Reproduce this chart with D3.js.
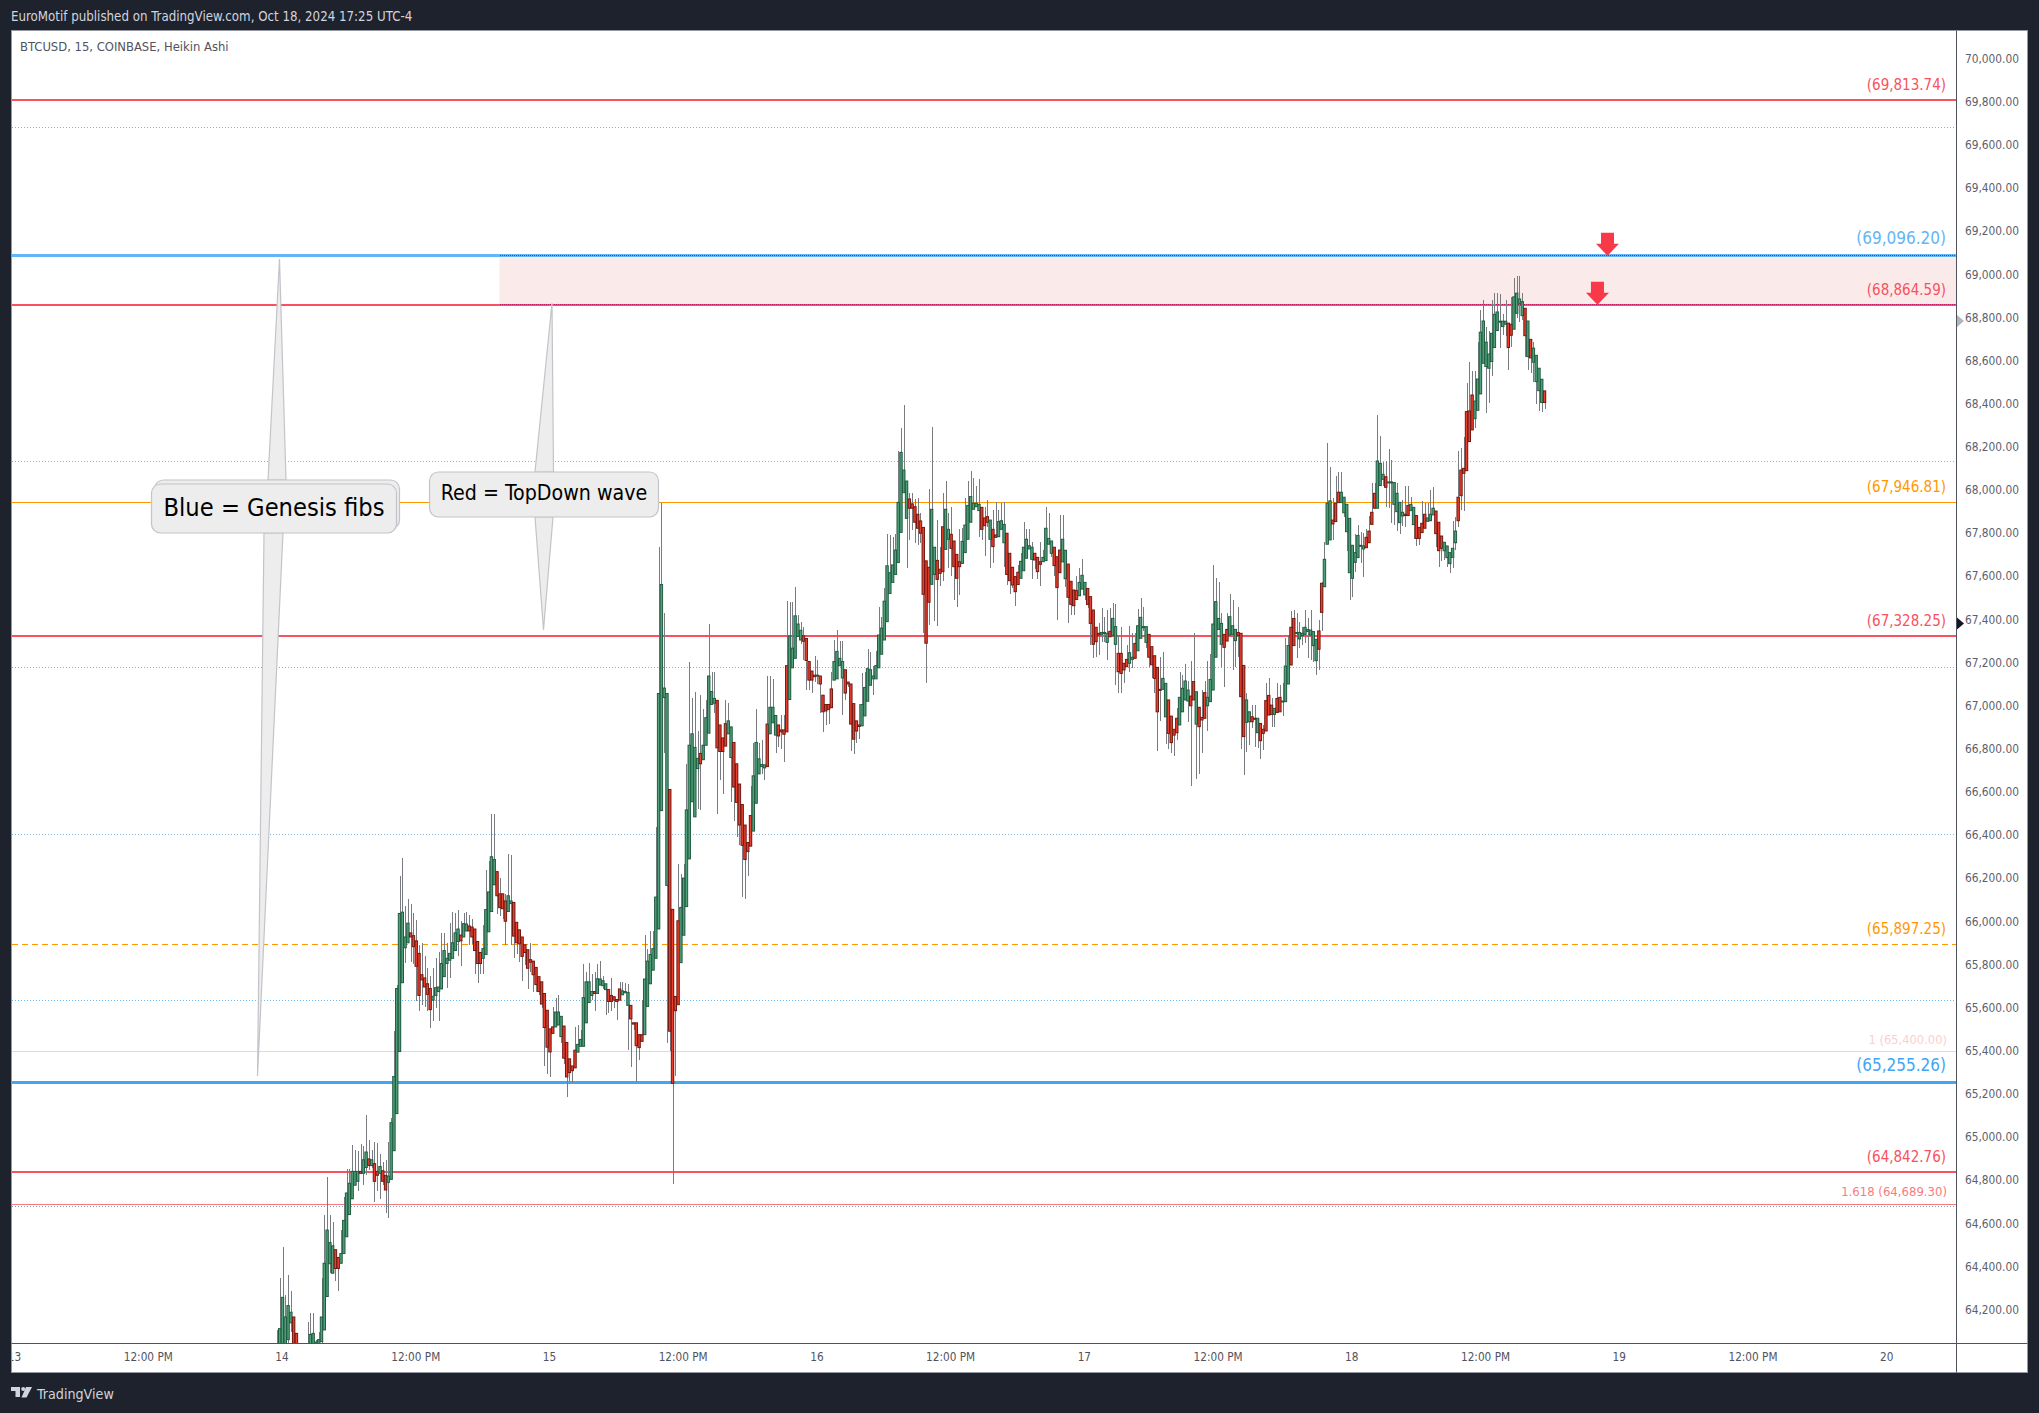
<!DOCTYPE html>
<html><head><meta charset="utf-8">
<script src="https://cdn.jsdelivr.net/npm/d3@7/dist/d3.min.js"></script>
<style>
html,body{margin:0;padding:0;background:#1e222d;overflow:hidden}
text{font-family:"DejaVu Sans Condensed","DejaVu Sans",sans-serif}
</style></head><body><div id="chart"></div>
<script>
const firstBar = -2; // bars are counted from midnight Oct 14, 15 minutes each
const upFlags = "UUUUUUDDDDUUUUUUUUUUUDDUUUUUUUDUUDUDDUDDUUUUUUUUDDDDDDDDUUUUUUUUUUDUUDDDDDUUUUUDDDDUUDDDDDDDDDDDDDDDUUUDDDDDUUUUUUDUUUUDDDDDUUUDDDDDUUUUUUUUUDDDDUUUUUUUDUUUUUDDDDUUDDDDDDDUUUUUDUUUDDDDUUUUUDDDDDUDDDDDUUUUDDDDDDUUUUUUUUUUUUUUUUUDDDDDDDDUUDDDUUDDDDUUUUUUUDDDUDDUUUDDDDDUUUUUDDDUUUUDDDUUDDDDUUUDDDDDUUUDUUDDDDUUDUUUUDDDDDUUDDDDUUUUDDUDDDUUUUUUDDUUUDDDUUDDUDDDDDUDDUUUDDUUUUUUUUDDUUUDDDUUUUUUUUUDDDDUUUDUUUUUUDDUUDDDDUUUDDDUUUUUDDDDDDUUUUUUUUUUUUDDUUUUDUDUUUUDDDDDDDDD";
const bodyTops = [64000,64115,64260,64169,64222,64191,64169,64093,64000,63960,
63960,64000,64088,64093,64053,64064,64169,64418,64572,64514,
64499,64481,64445,64463,64617,64744,64789,64844,64844,64844,
64844,64898,64934,64902,64898,64880,64844,64867,64847,64826,
64822,65070,65284,65692,66040,66046,65931,65995,65950,65937,
65913,65855,65756,65741,65714,65692,65656,65696,65699,65808,
65868,65832,65855,65904,65950,65968,65940,65993,65991,65982,
65977,65968,65910,65859,65877,66058,66140,66303,66290,66234,
66131,66131,66098,66122,66098,66091,65999,65964,65931,65895,
65872,65826,65819,65790,65747,65723,65669,65591,65505,65514,
65583,65583,65563,65518,65442,65366,65333,65406,65433,65456,
65650,65723,65723,65678,65678,65737,65736,65728,65714,65687,
65660,65654,65641,65690,65681,65678,65674,65614,65533,65533,
65478,65478,65736,65819,65850,65877,66116,67060,67565,67085,
67060,66615,66059,65655,66006,66068,66204,66520,66820,66873,
66810,66759,66782,66820,66948,67141,67069,67037,67028,66914,
66854,66920,66933,66905,66833,66734,66640,66545,66450,66369,
66494,66678,66833,66757,66731,66729,66918,66996,66996,66958,
66914,66891,66891,67189,67327,67270,67420,67382,67353,67327,
67315,67208,67164,67145,67145,67141,67052,67009,67009,67081,
67208,67255,67223,67208,67170,67113,67104,67013,66933,66914,
67009,67088,67175,67170,67141,67189,67331,67363,67488,67652,
67620,67656,67725,67946,68178,68096,68045,67962,67939,67926,
67891,67860,67830,67675,67645,67914,67738,67677,67636,67833,
67914,67821,67798,67767,67705,67671,67765,67841,67932,67973,
67942,67942,67937,67923,67874,67880,67864,67821,67795,67857,
67861,67844,67803,67710,67645,67602,67622,67673,67738,67775,
67745,67738,67710,67691,67671,67691,67826,67779,67767,67738,
67694,67725,67775,67724,67660,67580,67540,67537,67575,67608,
67575,67547,67509,67447,67367,67339,67343,67343,67339,67348,
67408,67370,67246,67246,67200,67218,67249,67228,67292,67374,
67413,67370,67370,67334,67277,67235,67181,67079,67130,67107,
67030,66955,66894,66945,67042,67084,67118,67076,67048,67115,
67068,66996,66949,67064,67042,67125,67382,67486,67408,67385,
67334,67357,67416,67374,67357,67343,67339,67190,67030,66975,
66952,66945,66945,66921,66894,67027,67051,67006,66991,67037,
67042,67025,67187,67282,67367,67408,67343,67343,67339,67367,
67357,67354,67347,67311,67350,67571,67682,67942,67953,67864,
67942,67993,67993,67970,67937,67872,67747,67713,67793,67747,
67744,67784,67813,67900,67988,68138,68127,68076,68065,68041,
68041,68038,67988,67946,67900,67891,67932,67937,67923,67885,
67830,67849,67891,67874,67891,67919,67906,67854,67790,67761,
67744,67713,67733,67813,67970,68096,68104,68367,68370,68444,
68416,68518,68735,68787,68689,68634,68730,68818,68829,68786,
68786,68786,68777,68772,68899,68916,68889,68877,68846,68787,
68702,68661,68628,68568,68517,68463];
const bodyBottoms = [63950,63980,63960,64000,64064,64142,63990,63990,63960,63930,
63930,63960,63990,63990,64030,64046,64055,64109,64264,64416,
64372,64394,64394,64418,64463,64541,64644,64717,64780,64798,
64835,64835,64862,64871,64871,64798,64826,64835,64798,64758,
64793,64807,64940,65112,65400,65719,65881,65904,65931,65886,
65795,65660,65732,65699,65665,65594,65638,65660,65678,65690,
65747,65808,65823,65832,65868,65910,65913,65931,65959,65959,
65931,65868,65808,65808,65832,65850,65955,66049,66173,66122,
66067,66062,66004,66049,66086,65935,65904,65899,65841,65859,
65786,65814,65756,65710,65678,65620,65511,65420,65398,65484,
65514,65523,65469,65369,65282,65302,65311,65324,65397,65424,
65424,65533,65627,65660,65669,65669,65708,65705,65687,65632,
65632,65638,65632,65638,65663,65672,65614,65551,65527,65427,
65418,65447,65478,65609,65714,65777,65832,65968,66517,67041,
66170,65494,65252,65589,65617,65812,65939,66072,66293,66558,
66488,66712,66734,66753,66820,66876,67009,67015,66808,66791,
66791,66816,66873,66763,66626,66555,66450,66356,66290,66327,
66352,66422,66551,66687,66721,66715,66721,66873,66924,66867,
66863,66882,66871,66882,67032,67179,67223,67325,67308,67302,
67213,67122,67122,67138,67141,67104,66975,66979,66986,66994,
67122,67128,67189,67132,67062,67104,66918,66848,66886,66907,
66910,66956,67024,67098,67128,67128,67179,67242,67308,67393,
67524,67575,67612,67667,67807,67991,67872,67919,67919,67854,
67826,67803,67520,67293,67483,67566,67612,67589,67617,67625,
67728,67775,67733,67648,67594,67648,67663,67713,67775,67854,
67914,67926,67908,67821,67838,67854,67775,67741,67784,67787,
67821,67759,67612,67583,67563,67532,67565,67594,67629,67687,
67730,67682,67679,67625,67659,67671,67676,67752,67710,67653,
67551,67620,67670,67592,67506,67473,67467,67496,67513,67544,
67517,67473,67385,67288,67300,67331,67334,67339,67297,67323,
67328,67288,67161,67153,67169,67184,67200,67218,67223,67258,
67316,67365,67297,67228,67193,67130,66975,67076,67079,66952,
66875,66832,66867,66878,66914,66975,67030,67025,67003,67030,
66918,66906,66937,66945,67003,67022,67076,67228,67357,67288,
67274,67303,67331,67334,67305,67328,67045,66860,66926,66929,
66929,66941,66878,66841,66875,66886,66960,66963,66963,66972,
66975,67022,67022,67104,67192,67282,67339,67313,67328,67334,
67347,67331,67282,67212,67265,67436,67555,67752,67772,67846,
67857,67945,67945,67898,67810,67620,67594,67668,67690,67744,
67730,67736,67759,67844,67919,67919,68024,68053,68016,68038,
68038,67937,67903,67852,67883,67885,67885,67908,67843,67779,
67779,67806,67826,67858,67861,67888,67801,67722,67733,67722,
67690,67662,67691,67759,67861,67977,68081,68093,68228,68282,
68334,68373,68449,68591,68576,68568,68599,68664,68743,68784,
68761,68772,68664,68721,68749,68823,68869,68812,68719,68622,
68616,68596,68506,68464,68409,68409];
const highs = [64110,64350,64494,64273,64363,64291,64169,64093,64020,63990,
63990,64146,64187,64187,64060,64100,64349,64644,64816,64644,
64608,64481,64445,64572,64726,64853,64853,64967,64943,64938,
64971,64962,65105,64989,64943,64980,64976,64925,64889,64898,
64980,65090,65496,65710,66212,66296,66076,66109,66086,66044,
66008,65895,65904,65841,65786,65750,65786,65832,65859,65950,
65950,65904,65995,66049,66040,66058,66004,66040,66049,66031,
66013,65968,65910,65859,65986,66240,66285,66499,66499,66234,
66203,66131,66131,66316,66312,66091,65999,65964,65931,65895,
65872,65904,65819,65790,65747,65723,65669,65591,65505,65605,
65650,65660,65563,65518,65442,65366,65333,65514,65523,65500,
65805,65768,65808,65759,65768,65805,65819,65750,65714,65687,
65741,65654,65641,65723,65723,65718,65714,65614,65533,65533,
65478,65641,65941,65877,65959,65960,66439,67741,67942,67435,
67060,66615,66059,65655,66271,66223,66271,66731,67204,67037,
67066,66886,67052,66990,67028,67382,67160,67160,67028,66914,
66854,67028,67018,66905,66833,66734,66640,66545,66450,66369,
66630,66829,66990,66829,66844,66729,67141,67141,67126,66958,
66914,66962,66958,67488,67482,67482,67554,67425,67393,67369,
67315,67208,67164,67236,67213,67141,67052,67009,67009,67160,
67308,67353,67302,67302,67170,67113,67104,67013,66933,67009,
67156,67160,67264,67251,67189,67255,67463,67416,67548,67800,
67794,67787,67800,68184,68290,68398,68045,67988,67988,67962,
67965,67895,67830,67675,68008,68294,67738,67864,67738,67988,
68045,67895,67923,67767,67705,67821,67826,67965,68045,68092,
68058,68022,68055,67923,67926,67957,67864,67911,67946,67911,
67942,67946,67803,67710,67645,67602,67656,67710,67855,67821,
67821,67764,67710,67691,67764,67725,67923,67895,67767,67738,
67694,67888,67888,67724,67660,67580,67540,67606,67640,67682,
67575,67547,67509,67447,67367,67385,67455,67416,67447,67455,
67478,67475,67331,67370,67200,67285,67373,67339,67339,67450,
67501,67459,67370,67334,67277,67235,67181,67231,67254,67107,
67030,66955,66894,66991,67161,67146,67197,67118,67210,67342,
67068,66996,67076,67118,67212,67243,67656,67597,67578,67432,
67334,67432,67520,67493,67357,67459,67339,67190,67061,66975,
67006,67006,66945,66921,66914,67107,67130,67037,66991,67107,
67099,67107,67316,67331,67444,67447,67432,67393,67370,67447,
67408,67447,67347,67311,67400,67578,67761,68220,68112,67965,
68068,68087,68087,67970,67937,67872,67747,67798,67840,67809,
67803,67821,67885,68034,68034,68351,68254,68135,68138,68192,
68143,68038,68034,67946,67957,68022,68022,67973,67923,67885,
67830,67953,67942,67942,68004,68016,67906,67854,67790,67761,
67744,67713,67861,67880,68186,68197,68248,68498,68596,68556,
68556,68690,68838,68885,68761,68743,68885,68919,68919,68913,
68818,68885,68777,68900,68988,68996,68996,68916,68846,68787,
68702,68689,68628,68568,68517,68463];
const lows = [63900,63950,63950,63950,64000,64100,63950,63950,63930,63900,
63900,63930,63970,63970,64000,64030,64050,64109,64264,64372,
64372,64336,64291,64418,64463,64541,64644,64717,64780,64753,
64835,64780,64826,64850,64860,64704,64753,64717,64780,64653,
64630,64807,64940,65112,65400,65719,65808,65904,65814,65805,
65632,65587,65614,65605,65587,65511,65542,65600,65542,65690,
65747,65696,65741,65832,65868,65841,65795,65931,65959,65895,
65900,65759,65718,65759,65759,65850,65955,66049,66173,66037,
66026,66013,65895,66049,65895,65832,65850,65814,65728,65800,
65690,65770,65678,65678,65660,65600,65333,65297,65284,65484,
65514,65523,65440,65340,65188,65257,65252,65324,65397,65424,
65424,65533,65627,65640,65587,65669,65708,65690,65569,65578,
65587,65600,65547,65638,65663,65672,65406,65330,65500,65257,
65360,65447,65478,65609,65714,65777,65832,65968,66517,66785,
65438,65400,64785,65286,65617,65812,65939,66072,66293,66558,
66488,66526,66520,66753,66820,66876,67009,66970,66502,66659,
66592,66816,66873,66555,66469,66394,66356,66115,66106,66214,
66352,66422,66551,66687,66687,66659,66721,66873,66924,66785,
66810,66801,66744,66882,67032,67179,67223,67325,67290,67217,
67075,67075,67062,67113,67104,66971,66880,66914,66918,66994,
67122,67128,67189,66961,67030,67090,66791,66778,66829,66848,
66910,66956,67024,67098,67052,67128,67179,67242,67308,67393,
67524,67575,67612,67667,67807,67991,67640,67772,67818,67756,
67748,67760,67340,67109,67378,67566,67397,67372,67560,67580,
67728,67640,67606,67493,67459,67517,67663,67713,67775,67854,
67914,67926,67787,67772,67699,67833,67640,67663,67784,67787,
67821,67648,67563,67520,67548,67467,67565,67594,67629,67687,
67730,67591,67636,67591,67560,67671,67676,67752,67694,67606,
67401,67620,67670,67555,67385,67424,67424,67496,67513,67544,
67493,67455,67285,67223,67231,67238,67300,67300,67215,67323,
67328,67099,67061,67061,67107,67184,67161,67180,67223,67258,
67316,67350,67270,67184,67130,67061,66795,66934,67079,66825,
66801,66785,66771,66844,66914,66975,67030,66929,66632,67030,
66663,66686,66782,66945,66887,67022,67076,67228,67357,67184,
67091,67303,67331,67169,67184,67231,66802,66682,66790,66821,
66900,66813,66805,66754,66798,66886,66960,66906,66906,66972,
66975,66957,67022,67104,67192,67282,67223,67269,67285,67292,
67223,67215,67207,67145,67169,67350,67555,67752,67772,67772,
67857,67945,67945,67880,67722,67493,67509,67625,67690,67663,
67602,67736,67759,67844,67919,67919,68024,68020,67926,67919,
67849,67841,67815,67799,67837,67833,67885,67908,67775,67745,
67747,67806,67826,67858,67861,67888,67741,67648,67674,67679,
67648,67617,67640,67725,67833,67911,67908,68093,68228,68282,
68290,68373,68449,68591,68359,68409,68534,68664,68743,68664,
68723,68719,68560,68668,68749,68800,68781,68790,68622,68560,
68545,68506,68402,68372,68367,68379];

const priceTicks = d3.range(64200, 70001, 200);
const timeTickBars = [-96,-48,0,48,96,144,192,240,288,336,384,432,480,528,576];
const timeTickLabels = ["13","12:00 PM","14","12:00 PM","15","12:00 PM","16","12:00 PM","17","12:00 PM","18","12:00 PM","19","12:00 PM","20"];
const hLevels = [
 {p:69813.74,c:"#f7525f",w:2},
 {p:69686,c:"#ff9800",w:1,d:"1 2"},
 {p:69090,c:"#64b5f6",w:3},
 {p:68862,c:"#f7525f",w:2},
 {p:68136,c:"#7fb5e6",w:1,d:"1 2"},
 {p:67946.81,c:"#ff9800",w:1},
 {p:67328.25,c:"#f7525f",w:2},
 {p:67181,c:"#64b5f6",w:1,d:"1 2"},
 {p:66407,c:"#7fb5e6",w:1,d:"1 2"},
 {p:65897.25,c:"#ff9800",w:1,d:"6 4"},
 {p:65637,c:"#64b5f6",w:1,d:"1 2"},
 {p:65400,c:"#fbcfd2",w:1},
 {p:65255.26,c:"#42a5f5",w:3},
 {p:64842.76,c:"#f7525f",w:2},
 {p:64689.30,c:"#f77c80",w:1},
 {p:64679,c:"#7f9fbf",w:1,d:"1 2"}
];
const levelLabels = [
 {t:"(69,813.74)",p:69884,c:"#f7525f",s:15},
 {t:"(69,096.20)",p:69172,c:"#64b5f6",s:17},
 {t:"(68,864.59)",p:68932,c:"#f7525f",s:15},
 {t:"(67,946.81)",p:68018,c:"#ff9800",s:15},
 {t:"(67,328.25)",p:67400,c:"#f7525f",s:15},
 {t:"(65,897.25)",p:65972,c:"#ff9800",s:15},
 {t:"1 (65,400.00)",p:65456,c:"#fbcfd2",s:12.8,dx:1},
 {t:"(65,255.26)",p:65338,c:"#42a5f5",s:17},
 {t:"(64,842.76)",p:64912,c:"#f7525f",s:15},
 {t:"1.618 (64,689.30)",p:64750,c:"#f77c80",s:13,dx:1}
];
const zone = {top:69090, bottom:68862, fromBar:77.9};
const arrows = [{bar:475.6,p:69090},{bar:472,p:68862}];

const W=2039,H=1413;
const P={l:11.5,t:30.5,r:2027.5,b:1372.5,ax:1956.5,ay:1343.5};
const x=d3.scaleLinear().domain([0,384]).range([282.5,1352.3]);
const y=d3.scaleLinear().domain([70000,64200]).range([59.4,1310.3]);
const tickY=d3.scaleLinear().domain([70000,64200]).range([58.6,1309.5]);
const cx=i=>Math.round(x(i))+.5;
const snap=(v,w)=>w%2===1?Math.round(v-.5)+.5:Math.round(v);

const svg=d3.select("#chart").append("svg").attr("width",W).attr("height",H).style("display","block");
svg.append("rect").attr("width",W).attr("height",H).attr("fill","#1e222d");
svg.append("text").attr("x",11).attr("y",21).attr("fill","#d1d4dc").attr("font-size",13.2).text("EuroMotif published on TradingView.com, Oct 18, 2024 17:25 UTC-4");
svg.append("rect").attr("x",P.l).attr("y",P.t).attr("width",P.r-P.l).attr("height",P.b-P.t).attr("fill","#fff").attr("stroke","#9598a1");

const defs=svg.append("defs");
defs.append("clipPath").attr("id","plot").append("rect").attr("x",P.l).attr("y",P.t).attr("width",P.ax-P.l).attr("height",P.ay-P.t);
defs.append("clipPath").attr("id","timeaxis").append("rect").attr("x",P.l+.5).attr("y",P.ay).attr("width",P.ax-P.l).attr("height",P.b-P.ay);

const plot=svg.append("g").attr("clip-path","url(#plot)");
plot.append("rect").attr("x",x(zone.fromBar)).attr("width",P.ax-x(zone.fromBar))
 .attr("y",y(zone.top)).attr("height",y(zone.bottom)-y(zone.top)).attr("fill","#faeaea");
plot.selectAll(".lvl").data(hLevels).join("line").attr("shape-rendering","crispEdges")
 .attr("x1",P.l).attr("x2",P.ax).attr("y1",d=>snap(y(d.p),d.w)).attr("y2",d=>snap(y(d.p),d.w))
 .attr("stroke",d=>d.c).attr("stroke-width",d=>d.w).attr("stroke-dasharray",d=>d.d||null);
[zone.top,zone.bottom].forEach(p=>plot.append("line").attr("shape-rendering","crispEdges").attr("x1",x(zone.fromBar)).attr("x2",P.ax).attr("y1",snap(y(p),1)).attr("y2",snap(y(p),1))
 .attr("stroke","#c2185b").attr("stroke-dasharray","1 1").attr("stroke-width",1));

const bars=bodyTops.map((t,k)=>({i:firstBar+k,t,b:bodyBottoms[k],h:highs[k],l:lows[k],up:upFlags[k]==="U"}));
plot.append("g").attr("shape-rendering","crispEdges").selectAll("line").data(bars).join("line")
 .attr("x1",d=>cx(d.i)).attr("x2",d=>cx(d.i)).attr("y1",d=>y(d.h)).attr("y2",d=>y(d.l)).attr("stroke","#787b80");
plot.append("g").selectAll("rect").data(bars).join("rect")
 .attr("x",d=>x(d.i)-1.2).attr("width",2.4)
 .attr("y",d=>y(d.t)).attr("height",d=>Math.max(1,y(d.b)-y(d.t)))
 .attr("fill",d=>d.up?"#52a07a":"#e8402f").attr("stroke",d=>d.up?"#1f5c41":"#74170f").attr("stroke-width",1);

svg.selectAll(".lab").data(levelLabels).join("text")
 .attr("text-anchor","end").attr("x",d=>1946+(d.dx||0)).attr("y",d=>y(d.p)+d.s*.36)
 .attr("fill",d=>d.c).attr("font-size",d=>d.s).text(d=>d.t);

arrows.forEach(a=>{const X=x(a.bar),Y=y(a.p);
 svg.append("path").attr("d",`M${X-6.5},${Y-23}H${X+6.5}V${Y-12}H${X+11.5}L${X},${Y}L${X-11.5},${Y-12}H${X-6.5}Z`).attr("fill","#f7394a");});

function callout(box,up,down,label,size,textY,back){
 const g=svg.append("g");
 const st=s=>s.attr("fill","#ededed").attr("stroke","#c3c4c9").attr("stroke-width",1.2);
 st(g.append("path").attr("d",`M${up[1]},${box.y0}L${up[2]},${up[3]}L${up[0]},${box.y0}Z`));
 st(g.append("path").attr("d",`M${down[0]},${box.y1}L${down[2]},${down[3]}L${down[1]},${box.y1}Z`));
 if(back) st(g.append("rect").attr("x",box.x0+3).attr("y",box.y0).attr("width",box.x1-box.x0).attr("height",box.y1-box.y0-4).attr("rx",9));
 st(g.append("rect").attr("x",box.x0).attr("y",box.y0+(back?4:0)).attr("width",box.x1-box.x0).attr("height",box.y1-box.y0-(back?4:0)).attr("rx",9));
 g.append("text").attr("x",(box.x0+box.x1)/2).attr("y",textY).attr("text-anchor","middle").attr("fill","#000").attr("font-size",size).text(label);
}
callout({x0:151.5,x1:396.5,y0:480,y1:533},[268,286,279.5,259],[264,283,257.5,1076],"Blue = Genesis fibs",25.2,516,true);
callout({x0:429.5,x1:658.5,y0:472,y1:517},[535,553.5,552,303],[535,553,543.5,630],"Red = TopDown wave",21.2,500,false);

svg.append("text").attr("x",20).attr("y",50.5).attr("fill","#50535e").attr("font-size",12.9).text("BTCUSD, 15, COINBASE, Heikin Ashi");

svg.append("line").attr("x1",P.l).attr("x2",P.r).attr("y1",P.ay).attr("y2",P.ay).attr("stroke","#50535e");
svg.append("line").attr("x1",P.ax).attr("x2",P.ax).attr("y1",P.t).attr("y2",P.b).attr("stroke","#50535e");

const ya=svg.append("g").attr("transform",`translate(2019,0)`).call(d3.axisLeft(tickY).tickValues(priceTicks).tickSize(0).tickPadding(0).tickFormat(d3.format(",.2f")));
ya.select(".domain").remove();
ya.selectAll("text").attr("fill","#5d606b").attr("font-size",11.8).attr("font-family",'"DejaVu Sans Condensed","DejaVu Sans",sans-serif');

const xa=svg.append("g").attr("clip-path","url(#timeaxis)").append("g").attr("transform",`translate(-1,1353)`)
 .call(d3.axisBottom(x).tickValues(timeTickBars).tickSize(0).tickPadding(0).tickFormat((d,k)=>timeTickLabels[k]));
xa.select(".domain").remove();
xa.selectAll("text").attr("fill","#50535e").attr("font-size",11.7).attr("font-family",'"DejaVu Sans Condensed","DejaVu Sans",sans-serif');

svg.append("path").attr("d","M1957,315L1964,321L1957,327Z").attr("fill","#b2b5be");
svg.append("path").attr("d","M1957,617.5L1964,623.5L1957,629.5Z").attr("fill","#131722");

const logo=svg.append("g").attr("fill","#d1d4dc").attr("transform","translate(11,1387)");
logo.append("path").attr("d","M0,0H9V10H4.5V4H0Z");
logo.append("circle").attr("cx",12.2).attr("cy",2).attr("r",2);
logo.append("path").attr("d","M15,0H21L15.5,10.5H10.5Z");
svg.append("text").attr("x",37).attr("y",1399).attr("fill","#d1d4dc").attr("font-size",14.2).text("TradingView");
</script></body></html>
